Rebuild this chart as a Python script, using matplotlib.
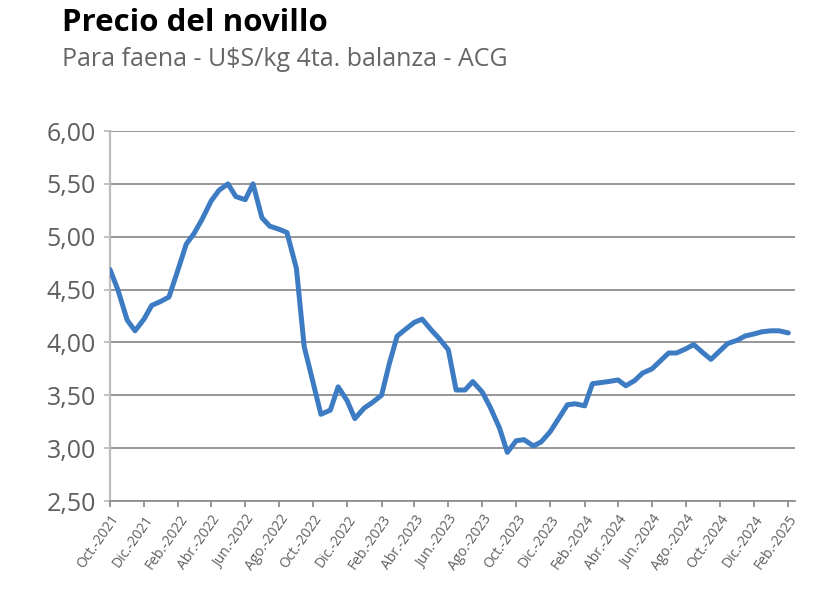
import numpy as np
import pandas as pd
import matplotlib
matplotlib.use("Agg")
import matplotlib.pyplot as plt
import matplotlib.dates as mdates

## Precio del novillo, semi-monthly readings (U$S/kg 4ta. balanza)
fechas = pd.date_range("2021-10-01", periods=81, freq="SMS")
precio = [4.69, 4.50, 4.21, 4.11, 4.22, 4.35, 4.39, 4.43, 4.70, 4.93,
          5.03, 5.16, 5.34, 5.44, 5.50, 5.38, 5.35, 5.50, 5.18, 5.10,
          5.07, 5.04, 4.70, 3.96, 3.62, 3.32, 3.36, 3.58, 3.45, 3.28,
          3.38, 3.43, 3.50, 3.80, 4.06, 4.12, 4.19, 4.22, 4.12, 4.04,
          3.93, 3.55, 3.55, 3.63, 3.53, 3.39, 3.19, 2.96, 3.07, 3.08,
          3.02, 3.06, 3.155, 3.27, 3.41, 3.42, 3.40, 3.61, 3.62, 3.63,
          3.645, 3.59, 3.64, 3.71, 3.75, 3.82, 3.90, 3.90, 3.94, 3.98,
          3.90, 3.84, 3.92, 3.99, 4.02, 4.06, 4.08, 4.10, 4.11, 4.11,
          4.09]

ticks_x = pd.date_range("2021-10-01", "2025-02-01", freq="2MS")
etiquetas = ["Oct.-2021", "Dic.-2021", "Feb.-2022", "Abr.-2022", "Jun.-2022",
             "Ago.-2022", "Oct.-2022", "Dic.-2022", "Feb.-2023", "Abr.-2023",
             "Jun.-2023", "Ago.-2023", "Oct.-2023", "Dic.-2023", "Feb.-2024",
             "Abr.-2024", "Jun.-2024", "Ago.-2024", "Oct.-2024", "Dic.-2024",
             "Feb.-2025"]
ticks_y = [2.5, 3.0, 3.5, 4.0, 4.5, 5.0, 5.5, 6.0]

plt.rcParams['font.family'] = ['Open Sans', 'DejaVu Sans']

fig = plt.figure(figsize=(8.4, 5.92), dpi=100)
ax = fig.add_axes([110/840, 1 - 501/592, (795 - 110)/840, (501 - 131)/592])

ax.plot(fechas, precio, color='#3d7bc2', lw=3.6, solid_capstyle='round',
        solid_joinstyle='round', zorder=3)

ax.set_ylim(2.5, 6.0)
ax.set_xlim(fechas[0], pd.Timestamp("2025-02-13"))
ax.set_yticks(ticks_y)
ax.set_yticklabels([f"{v:.2f}".replace('.', ',') for v in ticks_y])
ax.set_xticks(ticks_x)
ax.set_xticklabels(etiquetas, rotation=55, ha='right', va='top',
                   rotation_mode='anchor')

ax.grid(axis='y', color='#8f8f8f', lw=1.3, zorder=1)
ax.set_axisbelow(True)
for s in ['top', 'right']:
    ax.spines[s].set_visible(False)
ax.spines['left'].set_color('#bdbdbd')
ax.spines['left'].set_linewidth(1.6)
ax.spines['bottom'].set_color('#8f8f8f')
ax.spines['bottom'].set_linewidth(1.3)

ax.tick_params(axis='y', length=4, width=1.3, color='#bdbdbd',
               labelsize=18, labelcolor='#5f5f5f', pad=6)
ax.tick_params(axis='x', length=4, width=1.3, color='#8f8f8f',
               labelsize=10, labelcolor='#5f5f5f', pad=4)

fig.text(62/840, 1 - 31/592, "Precio del novillo", fontsize=22.5,
         fontweight='bold', color='black', va='baseline')
fig.text(62/840, 1 - 66/592, "Para faena - U$S/kg 4ta. balanza - ACG",
         fontsize=18, color='#666666', va='baseline')

fig.savefig("out.png", dpi=100)
